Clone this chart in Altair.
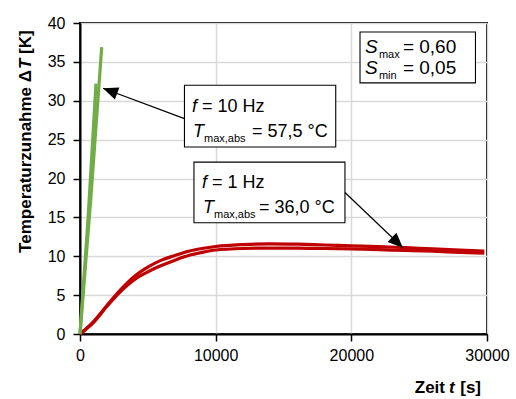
import math
import altair as alt
import pandas as pd

# ---------------- data ----------------
red_t = [0, 1000, 2000, 3000, 4000, 5000, 6000, 7000, 8000, 9000, 10000, 12000, 14000,
         16000, 18000, 20000, 22000, 24000, 26000, 28000, 29800]
red_upper = [0, 1.6, 3.7, 5.7, 7.4, 8.6, 9.5, 10.1, 10.65, 11.0, 11.25, 11.5, 11.6,
             11.55, 11.45, 11.35, 11.25, 11.1, 10.95, 10.8, 10.65]
red_lower = [0, 1.5, 3.6, 5.5, 7.0, 8.0, 8.8, 9.5, 10.1, 10.5, 10.8, 11.0, 11.05,
             11.05, 11.0, 10.95, 10.85, 10.75, 10.65, 10.5, 10.4]
green_a_t = [0, 600, 1180]
green_a = [0, 15.0, 32.2]
green_b_t = [0, 800, 1600]
green_b = [0, 17.5, 36.9]

x_ticks = [0, 10000, 20000, 30000]
y_ticks = [0, 5, 10, 15, 20, 25, 30, 35, 40]

W, H = 407, 311
XMAX, YMAX = 30000, 40

SANS = "'Liberation Sans', Arial, sans-serif"
RED = "#C00000"
GREEN = "#70AD47"

rows = []
for name, ts, vs in [("r1", red_t, red_upper), ("r2", red_t, red_lower),
                     ("g1", green_a_t, green_a), ("g2", green_b_t, green_b)]:
    for t, v in zip(ts, vs):
        rows.append({"s": name, "t": t, "v": v})
df = pd.DataFrame(rows)

xs = alt.Scale(domain=[0, XMAX], nice=False, zero=False)
ys = alt.Scale(domain=[0, YMAX], nice=False, zero=False)
XAX = alt.Axis(values=x_ticks, format="d", title=None, labelFlush=False,
               labelOverlap=False, labelPadding=6)
YAX = alt.Axis(values=y_ticks, format="d", title=None, labelPadding=8)


def X(field):
    return alt.X(field, scale=xs, axis=XAX)


def Y(field):
    return alt.Y(field, scale=ys, axis=YAX)


lines = alt.Chart(df).mark_line(strokeWidth=3.2, interpolate="monotone").encode(
    x=X("t:Q"),
    y=Y("v:Q"),
    color=alt.Color("s:N", scale=alt.Scale(domain=["r1", "r2", "g1", "g2"],
                                           range=[RED, RED, GREEN, GREEN]), legend=None),
    detail="s:N",
)

# ---------------- annotation boxes ----------------
boxes = pd.DataFrame({
    "x": [7700, 8400, 20640],
    "x2": [18850, 19530, 29150],
    "y": [24.05, 14.3, 32.3],
    "y2": [32.0, 22.1, 38.85],
})
box_layer = alt.Chart(boxes).mark_rect(fill="white", stroke="black", strokeWidth=1.1).encode(
    x=X("x:Q"), x2="x2:Q", y=Y("y:Q"), y2="y2:Q",
)

# ---------------- arrows ----------------
arrows = pd.DataFrame({
    "x": [7700, 19530], "y": [27.7, 18.2],
    "x2": [1700, 23800], "y2": [31.6, 11.1],
})
sx, sy = W / XMAX, H / YMAX
arrows["angle"] = [
    math.degrees(math.atan2((r.x2 - r.x) * sx, (r.y2 - r.y) * sy)) % 360
    for r in arrows.itertuples()
]
arrow_lines = alt.Chart(arrows).mark_rule(color="black", strokeWidth=1.2).encode(
    x=X("x:Q"), x2="x2:Q", y=Y("y:Q"), y2="y2:Q",
)
arrow_heads = alt.Chart(arrows).mark_point(
    shape="M0,0L-0.85,2L0.85,2Z", filled=True, color="black", opacity=1, size=225
).encode(
    x=X("x2:Q"), y=Y("y2:Q"),
    angle=alt.Angle("angle:Q", scale=None),
)


def dtext(x, y, t, size=18, style="normal", weight="normal", dx=0, dy=0):
    return alt.Chart(pd.DataFrame({"x": [x], "y": [y], "t": [t]})).mark_text(
        align="left", baseline="alphabetic", font=SANS, fontSize=size, fontStyle=style,
        fontWeight=weight, color="black", dx=dx, dy=dy
    ).encode(x=X("x:Q"), y=Y("y:Q"), text="t:N")


def ptext(x, y, t, size=17, style="normal", weight="bold", align="left", angle=0):
    return alt.Chart(pd.DataFrame({"t": [t]})).mark_text(
        align=align, baseline="alphabetic", font=SANS, fontSize=size, fontStyle=style,
        fontWeight=weight, color="black", angle=angle
    ).encode(x=alt.value(x), y=alt.value(y), text="t:N")


texts = [
    # box 1
    dtext(8255, 28.55, "f", style="italic"),
    dtext(8255, 28.55, "= 10 Hz", dx=10),
    dtext(8255, 25.34, "T", style="italic", dx=1),
    dtext(8255, 25.34, "max,abs", size=11, dx=12, dy=5),
    dtext(8255, 25.34, "= 57,5 °C", dx=60),
    # box 2
    dtext(8990, 18.8, "f", style="italic"),
    dtext(8990, 18.8, "= 1 Hz", dx=10),
    dtext(8990, 15.6, "T", style="italic", dx=1),
    dtext(8990, 15.6, "max,abs", size=11, dx=12, dy=5),
    dtext(8990, 15.6, "= 36,0 °C", dx=57),
    # box 3
    dtext(21000, 36.15, "S", size=19, style="italic"),
    dtext(21000, 36.15, "max", size=11, dx=14, dy=5),
    dtext(21000, 36.15, "= 0,60", size=19, dx=38),
    dtext(21000, 33.45, "S", size=19, style="italic"),
    dtext(21000, 33.45, "min", size=11, dx=14, dy=5),
    dtext(21000, 33.45, "= 0,05", size=19, dx=38),
    # axis titles
    ptext(365, 370, "Zeit", align="right"),
    ptext(369, 370, "t", style="italic"),
    ptext(401, 370, "[s]", align="right"),
    ptext(-49, 47, "Temperaturzunahme Δ", align="right", angle=270),
    ptext(-49, 46, "T", style="italic", align="left", angle=270),
    ptext(-49, 31, "[K]", align="left", angle=270),
]

chart = alt.layer(lines, box_layer, arrow_lines, arrow_heads, *texts).properties(
    width=W, height=H,
    autosize=alt.AutoSizeParams(type="none"),
    padding={"left": 80, "top": 23, "right": 29, "bottom": 65},
    background="white",
).configure_view(stroke="black", strokeWidth=2).configure_axis(
    labelFont=SANS, labelFontSize=16, labelColor="black",
    tickColor="black", tickSize=7, tickWidth=1.5,
    domainColor="black", domainWidth=2,
    gridColor="#d9d9d9", gridWidth=1.5,
)

chart.save("out.html", embed_options={"renderer": "svg", "actions": False})
